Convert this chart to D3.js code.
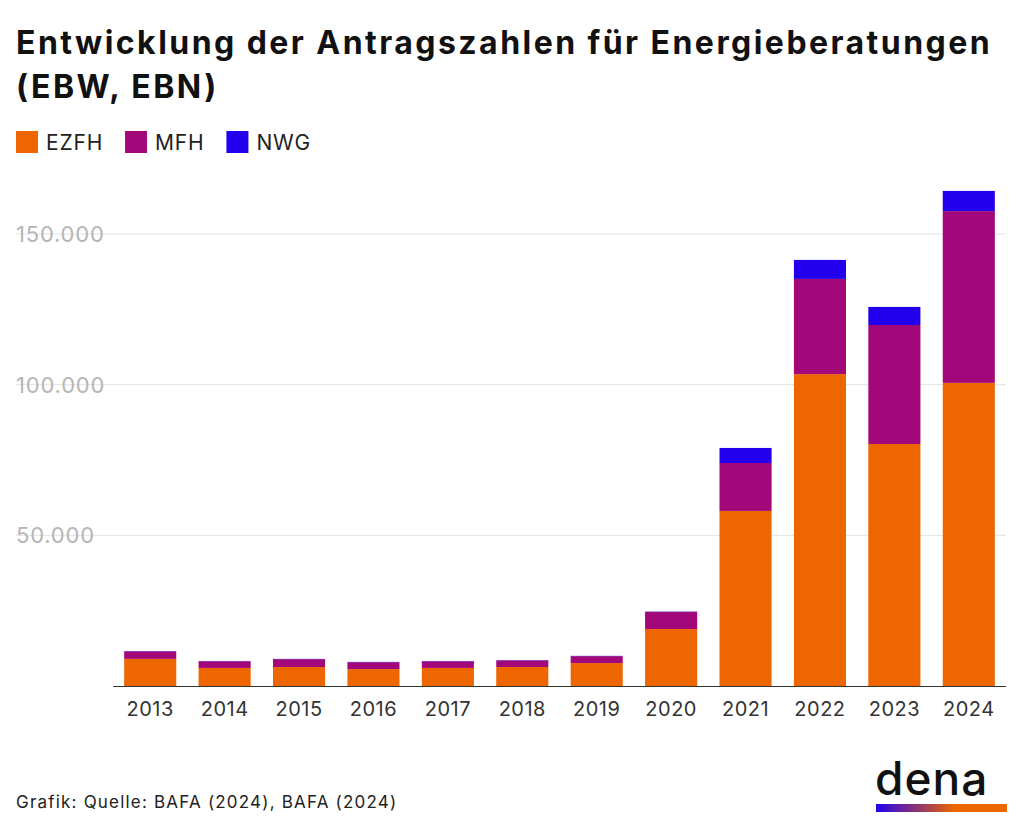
<!DOCTYPE html>
<html><head><meta charset="utf-8">
<script src="https://cdn.jsdelivr.net/npm/d3@7"></script>
<style>body{margin:0;background:#fff;font-family:Inter,"Noto Sans",sans-serif}</style>
</head><body>
<script>
const years=["2013","2014","2015","2016","2017","2018","2019","2020","2021","2022","2023","2024"];
const ezfh=[9000,6000,6300,5600,6000,6300,7600,18900,58100,103500,80300,100600];
const mfh=[2500,2200,2600,2300,2200,2200,2300,5700,15900,31600,39500,57000];
const nwg=[100,100,100,100,100,100,100,100,5000,6300,6000,6700];
const seriesNames=["EZFH","MFH","NWG"];
const colors=["#EE6600","#A3087A","#2200EE"];
const yTicks=[50000,100000,150000];

const W=1024,H=832;
const svg=d3.select("body").append("svg").attr("width",W).attr("height",H);
svg.append("text").attr("x",16).attr("y",54).attr("font-size",32).attr("font-weight",700).attr("fill","#111").attr("letter-spacing",2.45).text("Entwicklung der Antragszahlen für Energieberatungen");
svg.append("text").attr("x",16).attr("y",98).attr("font-size",32).attr("font-weight",700).attr("fill","#111").attr("letter-spacing",2.45).text("(EBW, EBN)");
let lx=16;
seriesNames.forEach((n,i)=>{
  svg.append("rect").attr("x",lx).attr("y",131).attr("width",22).attr("height",22).attr("fill",colors[i]);
  const t=svg.append("text").attr("x",lx+30).attr("y",150).attr("font-size",21).attr("letter-spacing",0.8).attr("fill","#222").text(n);
  lx+=30+t.node().getComputedTextLength()+22;
});
const x=d3.scaleBand().domain(years).range([113,1006]).paddingInner(0.3).paddingOuter(0.15);
const y=d3.scaleLinear().domain([0,150000]).range([686,234]);
const g=svg.append("g");
yTicks.forEach(t=>{
  g.append("line").attr("x1",16).attr("x2",1006).attr("y1",y(t)).attr("y2",y(t)).attr("stroke","#e3e3e3");
  g.append("text").attr("x",16).attr("y",y(t)+8).attr("font-size",22).attr("letter-spacing",0.8).attr("fill","#b5b5b5").text(d3.format(",")(t).replace(/,/g,"."));
});
const data=years.map((yr,i)=>({year:yr,EZFH:ezfh[i],MFH:mfh[i],NWG:nwg[i]}));
const stack=d3.stack().keys(seriesNames)(data);
stack.forEach((s,i)=>{
  g.selectAll(null).data(s).join("rect").attr("x",d=>x(d.data.year)).attr("width",x.bandwidth())
   .attr("y",d=>y(d[1])).attr("height",d=>y(d[0])-y(d[1])).attr("fill",colors[i]);
});
g.append("line").attr("x1",113).attr("x2",1006).attr("y1",686.5).attr("y2",686.5).attr("stroke","#333");
const ax=svg.append("g").attr("transform","translate(0,686)").call(d3.axisBottom(x).tickSize(0).tickPadding(16));
ax.select(".domain").remove();
ax.selectAll("text").attr("font-size",20).attr("letter-spacing",0.5).attr("fill","#333").attr("font-family","Inter,'Noto Sans',sans-serif");
svg.append("text").attr("x",16).attr("y",808).attr("font-size",17).attr("letter-spacing",1.2).attr("fill","#222").text("Grafik: Quelle: BAFA (2024), BAFA (2024)");
const grad=svg.append("defs").append("linearGradient").attr("id","lg");
grad.append("stop").attr("offset","0%").attr("stop-color","#2200EE");
grad.append("stop").attr("offset","60%").attr("stop-color","#EE6600");
svg.append("text").attr("x",875).attr("y",795).attr("font-size",46).attr("fill","#111").attr("font-weight",500).attr("letter-spacing",1).text("dena");
svg.append("rect").attr("x",876).attr("y",804).attr("width",131).attr("height",8).attr("fill","url(#lg)");
</script></body></html>
